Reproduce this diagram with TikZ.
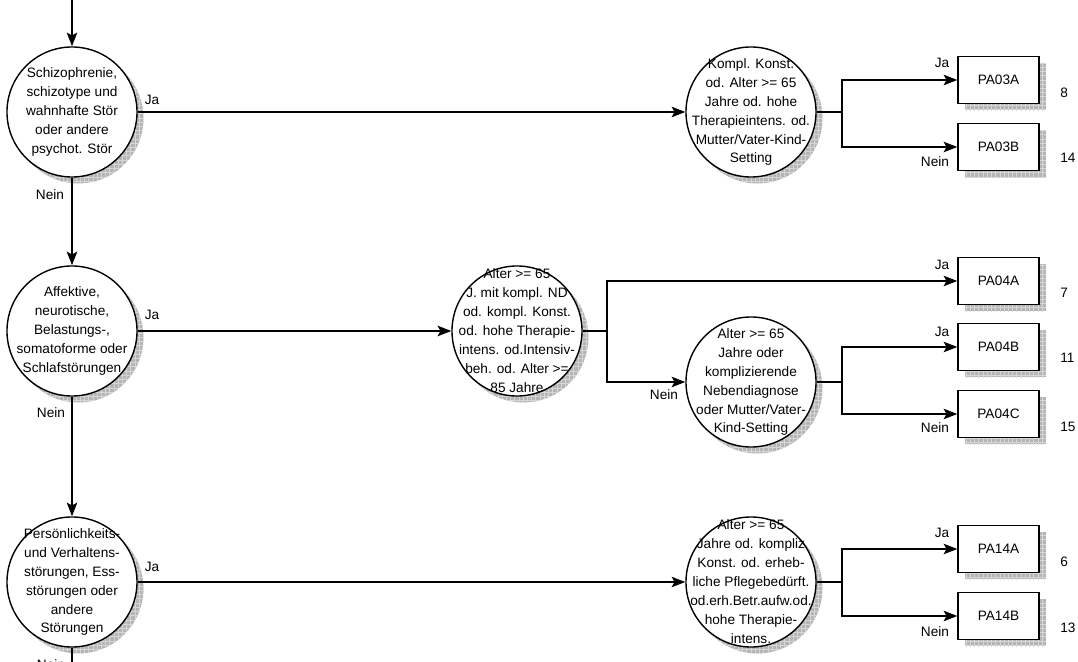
\documentclass[tikz,border=0pt]{standalone}
\usepackage{fontspec}
\setmainfont{Liberation Sans}
\usetikzlibrary{arrows.meta,backgrounds,patterns}

\begin{document}
\begin{tikzpicture}[x=0.025cm,y=-0.025cm]
\tikzstyle{every node}=[font=\fontsize{9.7pt}{13.5pt}\selectfont]
\tikzstyle{frage}=[draw, circle, fill=white, line width=1pt, minimum size=3.25cm, inner sep=0pt]
\tikzstyle{fragetext}=[align=center, inner sep=0pt]
\tikzstyle{gruppe}=[draw, rectangle, fill=white, line width=1pt, minimum width=2.025cm, minimum height=1.175cm]
\tikzstyle{schatten}=[draw=none, fill=gray!58, postaction={pattern=grid, pattern color=gray!32}]
\tikzstyle{txt}=[inner sep=0pt]
\tikzstyle{linie}=[line width=1.3pt]
\tikzstyle{pfeil}=[line width=1.3pt, -{Stealth[length=3.4mm,width=2.6mm,inset=0.7mm]}]

\useasboundingbox (0,0) rectangle (1078,662);

% Entscheidungen
\node[frage] (k1) at ( 72,112) {};
\node[frage] (k2) at (751,112) {};
\node[frage] (k3) at ( 72,331) {};
\node[frage] (k4) at (517,331) {};
\node[frage] (k5) at (751,382) {};
\node[frage] (k6) at ( 72,582) {};
\node[frage] (k7) at (751,582) {};

\node[fragetext] (k1t) at (k1) {Schizophrenie,\\schizotype und\\wahnhafte Stör\\oder andere\\psychot. Stör};
\node[fragetext] (k2t) at (k2) {Kompl. Konst.\\od. Alter >= 65\\Jahre od. hohe\\Therapieintens. od.\\Mutter/Vater-Kind-\\Setting};
\node[fragetext] (k3t) at (k3) {Affektive,\\neurotische,\\Belastungs-,\\somatoforme oder\\Schlafstörungen};
\node[fragetext] (k4t) at (k4) {Alter >= 65\\J. mit kompl. ND\\od. kompl. Konst.\\od. hohe Therapie-\\intens. od.Intensiv-\\beh. od. Alter >=\\85 Jahre};
\node[fragetext] (k5t) at (k5) {Alter >= 65\\Jahre oder\\komplizierende\\Nebendiagnose\\oder Mutter/Vater-\\Kind-Setting};
\node[fragetext] (k6t) at (k6) {Persönlichkeits-\\und Verhaltens-\\störungen, Ess-\\störungen oder\\andere\\Störungen};
\node[fragetext] (k7t) at (k7) {Alter >= 65\\Jahre od. kompliz\\Konst. od. erheb-\\liche Pflegebedürft.\\od.erh.Betr.aufw.od.\\hohe Therapie-\\intens.};

% DRGs
\node[gruppe] (b03a) at (998.5, 80) {PA03A};
\node[gruppe] (b03b) at (998.5,147) {PA03B};
\node[gruppe] (b04a) at (998.5,281) {PA04A};
\node[gruppe] (b04b) at (998.5,347) {PA04B};
\node[gruppe] (b04c) at (998.5,414) {PA04C};
\node[gruppe] (b14a) at (998.5,549) {PA14A};
\node[gruppe] (b14b) at (998.5,616) {PA14B};

% Schatten
\begin{scope}[on background layer]
\foreach \k in {k1,k2,k3,k4,k5,k6,k7}
  \node[frage, schatten] (s\k) at ([xshift=0.16cm,yshift=-0.16cm]\k) {};
\foreach \b in {b03a,b03b,b04a,b04b,b04c,b14a,b14b}
  \node[gruppe, schatten] (s\b) at ([xshift=0.17cm,yshift=-0.17cm]\b) {};
\end{scope}

\node[txt, anchor=west] (n03a) at (1060, 93) {8};
\node[txt, anchor=west] (n03b) at (1060,158) {14};
\node[txt, anchor=west] (n04a) at (1060,293) {7};
\node[txt, anchor=west] (n04b) at (1060,358) {11};
\node[txt, anchor=west] (n04c) at (1060,427) {15};
\node[txt, anchor=west] (n14a) at (1060,562) {6};
\node[txt, anchor=west] (n14b) at (1060,628) {13};

% Ja / Nein
\node[txt] (ja1)  at (152,100) {Ja};
\node[txt] (ja2)  at (152,315) {Ja};
\node[txt] (ja3)  at (152,567) {Ja};
\node[txt] (nn1)  at ( 50,195) {Nein};
\node[txt] (nn2)  at ( 51,413) {Nein};
\node[txt] (nn3)  at ( 51,665) {Nein};
\node[txt] (ja4)  at (942, 63) {Ja};
\node[txt] (nn4)  at (935,162) {Nein};
\node[txt] (ja5)  at (942,265) {Ja};
\node[txt] (ja6)  at (942,332) {Ja};
\node[txt] (nn5)  at (935,428) {Nein};
\node[txt] (nn6)  at (664,395) {Nein};
\node[txt] (ja7)  at (942,533) {Ja};
\node[txt] (nn7)  at (935,632) {Nein};

\coordinate (start) at (72,-20);
\coordinate (ende)  at (72,700);
\coordinate (j1) at (842,112);
\coordinate (j2) at (607,331);
\coordinate (j3) at (842,382);
\coordinate (j4) at (842,582);

\draw[pfeil] (start) -- (k1);
\draw[pfeil] (k1) -- (k3);
\draw[pfeil] (k3) -- (k6);
\draw[linie] (k6) -- (ende);

\draw[pfeil] (k1) -- (k2);
\draw[pfeil] (k3) -- (k4);
\draw[pfeil] (k6) -- (k7);

\draw[linie] (k2) -- (j1);
\draw[pfeil] (j1) |- (b03a);
\draw[pfeil] (j1) |- (b03b);

\draw[linie] (k4) -- (j2);
\draw[pfeil] (j2) |- (b04a);
\draw[pfeil] (j2) |- (k5);

\draw[linie] (k5) -- (j3);
\draw[pfeil] (j3) |- (b04b);
\draw[pfeil] (j3) |- (b04c);

\draw[linie] (k7) -- (j4);
\draw[pfeil] (j4) |- (b14a);
\draw[pfeil] (j4) |- (b14b);
\end{tikzpicture}
\end{document}
